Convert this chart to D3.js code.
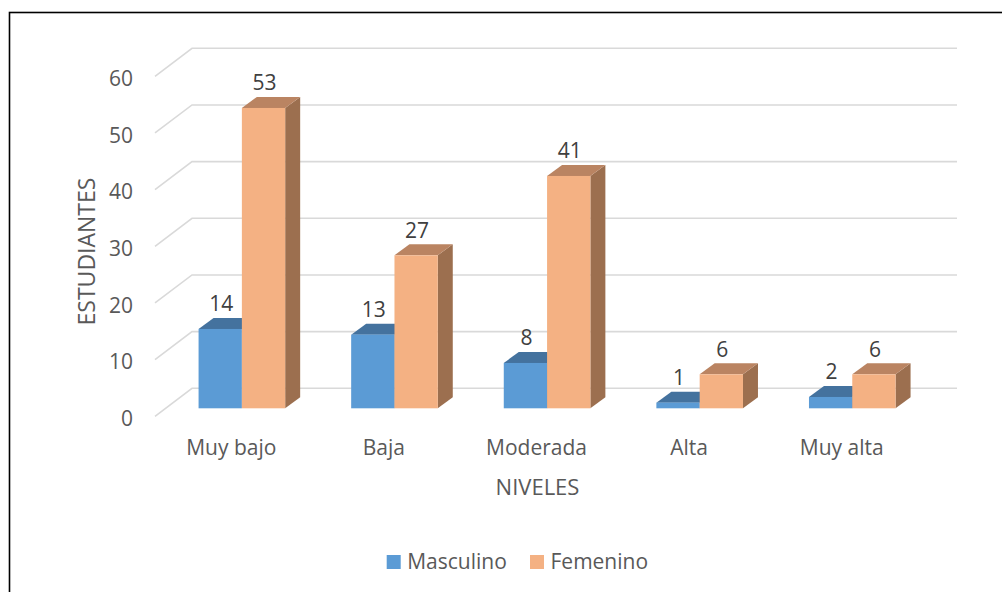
<!DOCTYPE html>
<html>
<head>
<meta charset="utf-8">
<script src="https://cdn.jsdelivr.net/npm/d3@7"></script>
<style>
  body { margin: 0; background: #fff; }
  svg { display: block; font-family: "Open Sans", sans-serif; }
</style>
</head>
<body>
<div id="the_chart"></div>
<script>

var categories = ["Muy bajo", "Baja", "Moderada", "Alta", "Muy alta"];
var series = ["Masculino", "Femenino"];
var masculino = [14, 13, 8, 1, 2];
var femenino = [53, 27, 41, 6, 6];
var yTicks = [0, 10, 20, 30, 40, 50, 60];

var w = 1002;
var h = 592;

var colors = {
  Masculino: { front: "#5B9BD5", top: "#44729E", side: "#3E6891" },
  Femenino: { front: "#F4B183", top: "#BA8462", side: "#9C6F4F" }
};

var svg = d3.select("#the_chart")
  .append("svg")
  .attr("width", w)
  .attr("height", h);

// outer frame (only left and top edges show in the picture)
svg.append("rect")
  .attr("x", 9.5)
  .attr("y", 12.5)
  .attr("width", 1200)
  .attr("height", 1000)
  .attr("fill", "none")
  .attr("stroke", "#000")
  .attr("stroke-width", 1.6);

// floor depth of the 3D box
var depthX = 37, depthY = -28;
var floorLeft = 155, floorRight = 920;

// back wall scale
var yBack = d3.scaleLinear()
  .domain([0, 60])
  .range([388.3, 48.3]);

function yFront(v) { return yBack(v) - depthY; }

// gridlines: diagonal on the side wall, then across the back wall
var grid = svg.append("g");
yTicks.forEach(function (t) {
  grid.append("path")
    .attr("d", "M" + floorLeft + "," + yFront(t) +
      "L" + (floorLeft + depthX) + "," + yBack(t) +
      "H" + (floorRight + depthX))
    .attr("fill", "none")
    .attr("stroke", "#D9D9D9")
    .attr("stroke-width", 1.6);
});

// y tick labels
svg.append("g")
  .selectAll("text")
  .data(yTicks)
  .enter().append("text")
  .attr("x", 133)
  .attr("y", function (d) { return yFront(d) + 2.3; })
  .attr("dy", "0.35em")
  .attr("text-anchor", "end")
  .attr("font-size", 21)
  .attr("fill", "#595959")
  .text(function (d) { return d; });

// category positions along the front floor edge
var x0 = d3.scaleBand()
  .domain(categories)
  .range([floorLeft, floorRight - 2])
  .paddingInner(0.4325)
  .paddingOuter(0.4325 / 2);

var x1 = d3.scaleBand()
  .domain(series)
  .range([0, x0.bandwidth()]);

// bars sit part way into the floor depth
var barShift = 8 / 28;
var barDX = 15, barDY = -11;
var bar0 = yFront(0) + depthY * barShift;
var perUnit = (yBack(0) - yBack(10)) / 10;

function barTop(v) { return bar0 - v * perUnit; }

var data = [];
categories.forEach(function (c, i) {
  data.push({ cat: c, s: "Masculino", v: masculino[i] });
  data.push({ cat: c, s: "Femenino", v: femenino[i] });
});

var bars = svg.append("g");
data.forEach(function (d) {
  var x = x0(d.cat) + x1(d.s) + depthX * barShift;
  var bw = x1.bandwidth();
  var top = barTop(d.v);
  var g = bars.append("g").attr("class", "bar");
  // side face
  g.append("path")
    .attr("d", "M" + (x + bw) + "," + top +
      "L" + (x + bw + barDX) + "," + (top + barDY) +
      "L" + (x + bw + barDX) + "," + (bar0 + barDY) +
      "L" + (x + bw) + "," + bar0 + "Z")
    .attr("fill", colors[d.s].side);
  // top face
  g.append("path")
    .attr("d", "M" + x + "," + top +
      "L" + (x + barDX) + "," + (top + barDY) +
      "L" + (x + bw + barDX) + "," + (top + barDY) +
      "L" + (x + bw) + "," + top + "Z")
    .attr("fill", colors[d.s].top);
  // front face
  g.append("rect")
    .attr("x", x)
    .attr("y", top)
    .attr("width", bw)
    .attr("height", bar0 - top)
    .attr("fill", colors[d.s].front);
});

// value labels
svg.append("g")
  .selectAll("text")
  .data(data)
  .enter().append("text")
  .attr("x", function (d) {
    return x0(d.cat) + x1(d.s) + depthX * barShift + x1.bandwidth() / 2 + 1;
  })
  .attr("y", function (d) { return barTop(d.v) + barDY - 6.5; })
  .attr("text-anchor", "middle")
  .attr("font-size", 21)
  .attr("fill", "#404040")
  .text(function (d) { return d.v; });

// category labels
svg.append("g")
  .selectAll("text")
  .data(categories)
  .enter().append("text")
  .attr("x", function (d) { return x0(d) + x0.bandwidth() / 2; })
  .attr("y", 455)
  .attr("text-anchor", "middle")
  .attr("font-size", 21)
  .attr("fill", "#595959")
  .text(function (d) { return d; });

// axis titles
svg.append("text")
  .attr("x", 537.5)
  .attr("y", 495)
  .attr("text-anchor", "middle")
  .attr("font-size", 22)
  .attr("fill", "#595959")
  .text("NIVELES");

svg.append("text")
  .attr("transform", "translate(95,251.5) rotate(-90)")
  .attr("text-anchor", "middle")
  .attr("font-size", 23)
  .attr("fill", "#595959")
  .text("ESTUDIANTES");

// legend
var legendX = [386.7, 530];
var legend = svg.append("g")
  .selectAll("g")
  .data(series)
  .enter().append("g")
  .attr("transform", function (d, i) { return "translate(" + legendX[i] + ",555)"; });

legend.append("rect")
  .attr("width", 14)
  .attr("height", 14)
  .attr("fill", function (d) { return colors[d].front; });

legend.append("text")
  .attr("x", 20.5)
  .attr("y", 14)
  .attr("font-size", 21)
  .attr("fill", "#595959")
  .text(function (d) { return d; });

</script>
</body>
</html>
